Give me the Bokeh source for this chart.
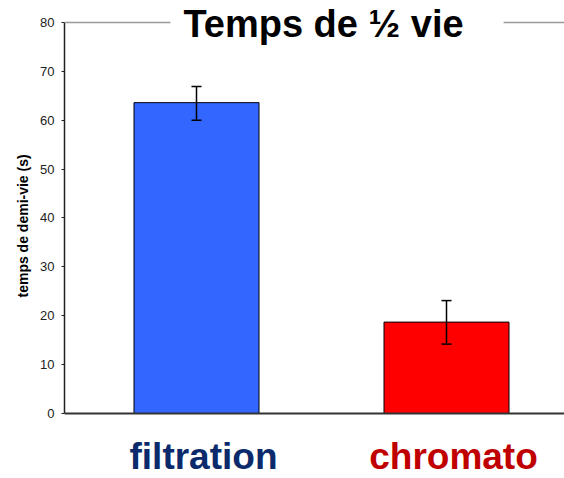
from bokeh.plotting import figure
from bokeh.models import Range1d, Whisker, ColumnDataSource, Label, Span, TeeHead, FixedTicker, Title
from bokeh.core.properties import value
from bokeh.embed import file_html
from bokeh.resources import INLINE

categories = ["filtration", "chromato"]
values = [63.6, 18.7]
err_low = [60.0, 14.2]
err_high = [66.9, 23.1]
bar_colors = ["#3366FF", "#FF0000"]
label_colors = ["#0B2A6B", "#C00000"]
y_ticks = [0, 10, 20, 30, 40, 50, 60, 70, 80]

xpos = [i + 0.5 for i in range(len(categories))]

src = ColumnDataSource(dict(x=xpos, top=values, lower=err_low, upper=err_high,
                            color=bar_colors, cat=categories, base=[0] * len(categories),
                            lcolor=label_colors))

p = figure(width=564, height=478, output_backend="svg", toolbar_location=None,
           x_range=Range1d(-0.028, 1.972), y_range=Range1d(-13.3, 84.5),
           min_border_left=64, min_border_right=0, min_border_top=0, min_border_bottom=0)
p.outline_line_color = None
p.xgrid.visible = False
p.ygrid.visible = False
p.xaxis.visible = False
p.background_fill_color = "white"

p.vbar(x="x", top="top", width=0.5, bottom=0, fill_color="color",
       line_color="black", line_width=1, source=src)

w = Whisker(base="x", upper="upper", lower="lower", source=src, level="overlay",
            line_color="black", line_width=1.5,
            upper_head=TeeHead(size=10, line_color="black", line_width=1.5),
            lower_head=TeeHead(size=10, line_color="black", line_width=1.5))
p.add_layout(w)

# x axis line at 0
p.add_layout(Span(location=0, dimension="width", line_color="#333333", line_width=2))

# y axis
p.yaxis.bounds = (0, 80)
p.yaxis.ticker = FixedTicker(ticks=y_ticks)
p.yaxis.minor_tick_line_color = None
p.yaxis.major_tick_in = 0
p.yaxis.major_tick_out = 3
p.yaxis.axis_line_color = "#222222"
p.yaxis.axis_line_width = 1.5
p.yaxis.major_tick_line_color = "#222222"
p.yaxis.major_label_text_font = "Liberation Sans"
p.yaxis.major_label_text_font_size = "13px"
p.yaxis.major_label_text_color = "#222222"
p.yaxis.major_label_standoff = 7

# y axis title (placed along the 0-80 span)
p.add_layout(Title(text="temps de demi-vie (s)", align="left", offset=181,
                   text_font="Liberation Sans", text_font_size="14px",
                   text_font_style="bold", text_color="black", standoff=14), "left")

# category labels
p.text(x="x", y="base", text="cat", source=src, text_align="center",
       text_baseline="alphabetic", x_offset=7, y_offset=43, text_font=value("Liberation Sans"),
       text_font_size="37px", text_font_style="bold", text_color="lcolor")

# top line and title
p.add_layout(Span(location=80, dimension="width", line_color="#999999", line_width=1.5))
p.add_layout(Label(x=1.062, y=80, text="Temps de ½ vie", text_align="center",
                   text_baseline="alphabetic", y_offset=-2,
                   text_font="Liberation Sans", text_font_size="38px",
                   text_font_style="bold", text_color="black",
                   background_fill_color="white",
                   padding=dict(left=13, right=40, top=0, bottom=0)))

open("out.html", "w").write(file_html(p, INLINE))
